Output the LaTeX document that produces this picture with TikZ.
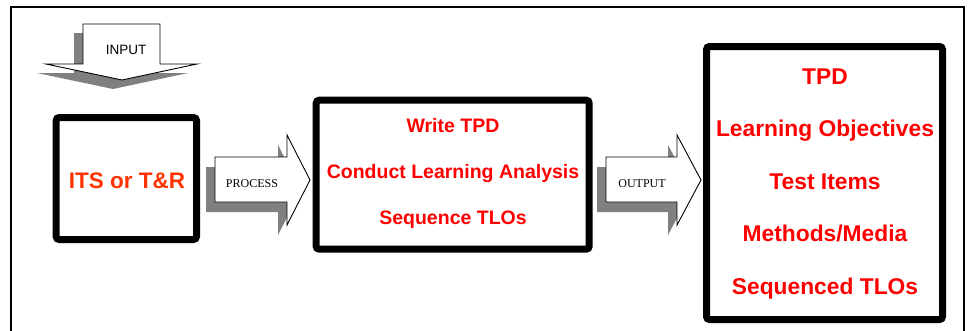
\documentclass[tikz,border=0pt]{standalone}
\usepackage{fontspec}
\setmainfont{Liberation Sans}
\newfontfamily\timesf{Liberation Serif}
\definecolor{tred}{HTML}{FF0000}
\definecolor{torange}{HTML}{FF3300}
\definecolor{shadegray}{HTML}{808080}
\begin{document}
\begin{tikzpicture}[x=1pt,y=-1pt,
  bigbox/.style={draw=black,line width=7pt,rounded corners=3pt,fill=white},
  redtext/.style={text=tred,anchor=base,inner sep=0pt},
  midfont/.style={font=\fontsize{19.5}{20}\selectfont\bfseries},
  bigfont/.style={font=\fontsize{22.8}{24}\selectfont\bfseries},
  blockarrow/.style={draw=black,line width=0.9pt,fill=white,line join=miter},
  arrowshadow/.style={fill=shadegray,draw=none},
  arrowlabel/.style={anchor=base,inner sep=0pt,font=\timesf\fontsize{12}{14}\selectfont}
]
\useasboundingbox (0,0) rectangle (969,330);
% outer frame
\draw[line width=1.2pt] (11,340) -- (11,7) -- (964,7) -- (964,340);

% boxes
\draw[bigbox] (56.2,117.5) rectangle (196.5,239.5);
\draw[bigbox] (316.2,100.2) rectangle (589.2,249.2);
\draw[bigbox] (706.5,46.5) rectangle (942.5,319.5);

% INPUT arrow
\fill[arrowshadow,shift={(-9,9)}] (83,24) -- (160,24) -- (160,64) -- (197,64) -- (122,80) -- (46,64) -- (83,64) -- cycle;
\draw[blockarrow] (83,24) -- (160,24) -- (160,64) -- (197,64) -- (122,80) -- (46,64) -- (83,64) -- cycle;
\node[anchor=base,inner sep=0pt,font=\fontsize{13.5}{15}\selectfont] (inlab) at (126,54) {INPUT};

% PROCESS arrow
\fill[arrowshadow,shift={(-9,10)}] (215,157) -- (287,157) -- (287,135) -- (310,180) -- (287,225) -- (287,202) -- (215,202) -- cycle;
\draw[blockarrow] (215,157) -- (287,157) -- (287,135) -- (310,180) -- (287,225) -- (287,202) -- (215,202) -- cycle;
\node[arrowlabel] (proclab) at (252,187) {PROCESS};

% OUTPUT arrow
\fill[arrowshadow,shift={(-9,10)}] (606,157) -- (677,157) -- (677,135) -- (701,180) -- (677,225) -- (677,202) -- (606,202) -- cycle;
\draw[blockarrow] (606,157) -- (677,157) -- (677,135) -- (701,180) -- (677,225) -- (677,202) -- (606,202) -- cycle;
\node[arrowlabel] (outlab) at (642,187) {OUTPUT};

% box 1 text
\node[redtext,text=torange,font=\fontsize{22.5}{24}\selectfont\bfseries] (its) at (127,188) {ITS or T\&R};

% box 2 text
\node[redtext,midfont] (b2a) at (453,132) {Write TPD};
\node[redtext,midfont] (b2b) at (453,178) {Conduct Learning Analysis};
\node[redtext,midfont] (b2c) at (453,224) {Sequence TLOs};

% box 3 text
\node[redtext,bigfont] (b3a) at (825,84) {TPD};
\node[redtext,bigfont] (b3b) at (825,136.5) {Learning Objectives};
\node[redtext,bigfont] (b3c) at (825,189) {Test Items};
\node[redtext,bigfont] (b3d) at (825,241.5) {Methods/Media};
\node[redtext,bigfont] (b3e) at (825,294) {Sequenced TLOs};
\end{tikzpicture}
\end{document}
